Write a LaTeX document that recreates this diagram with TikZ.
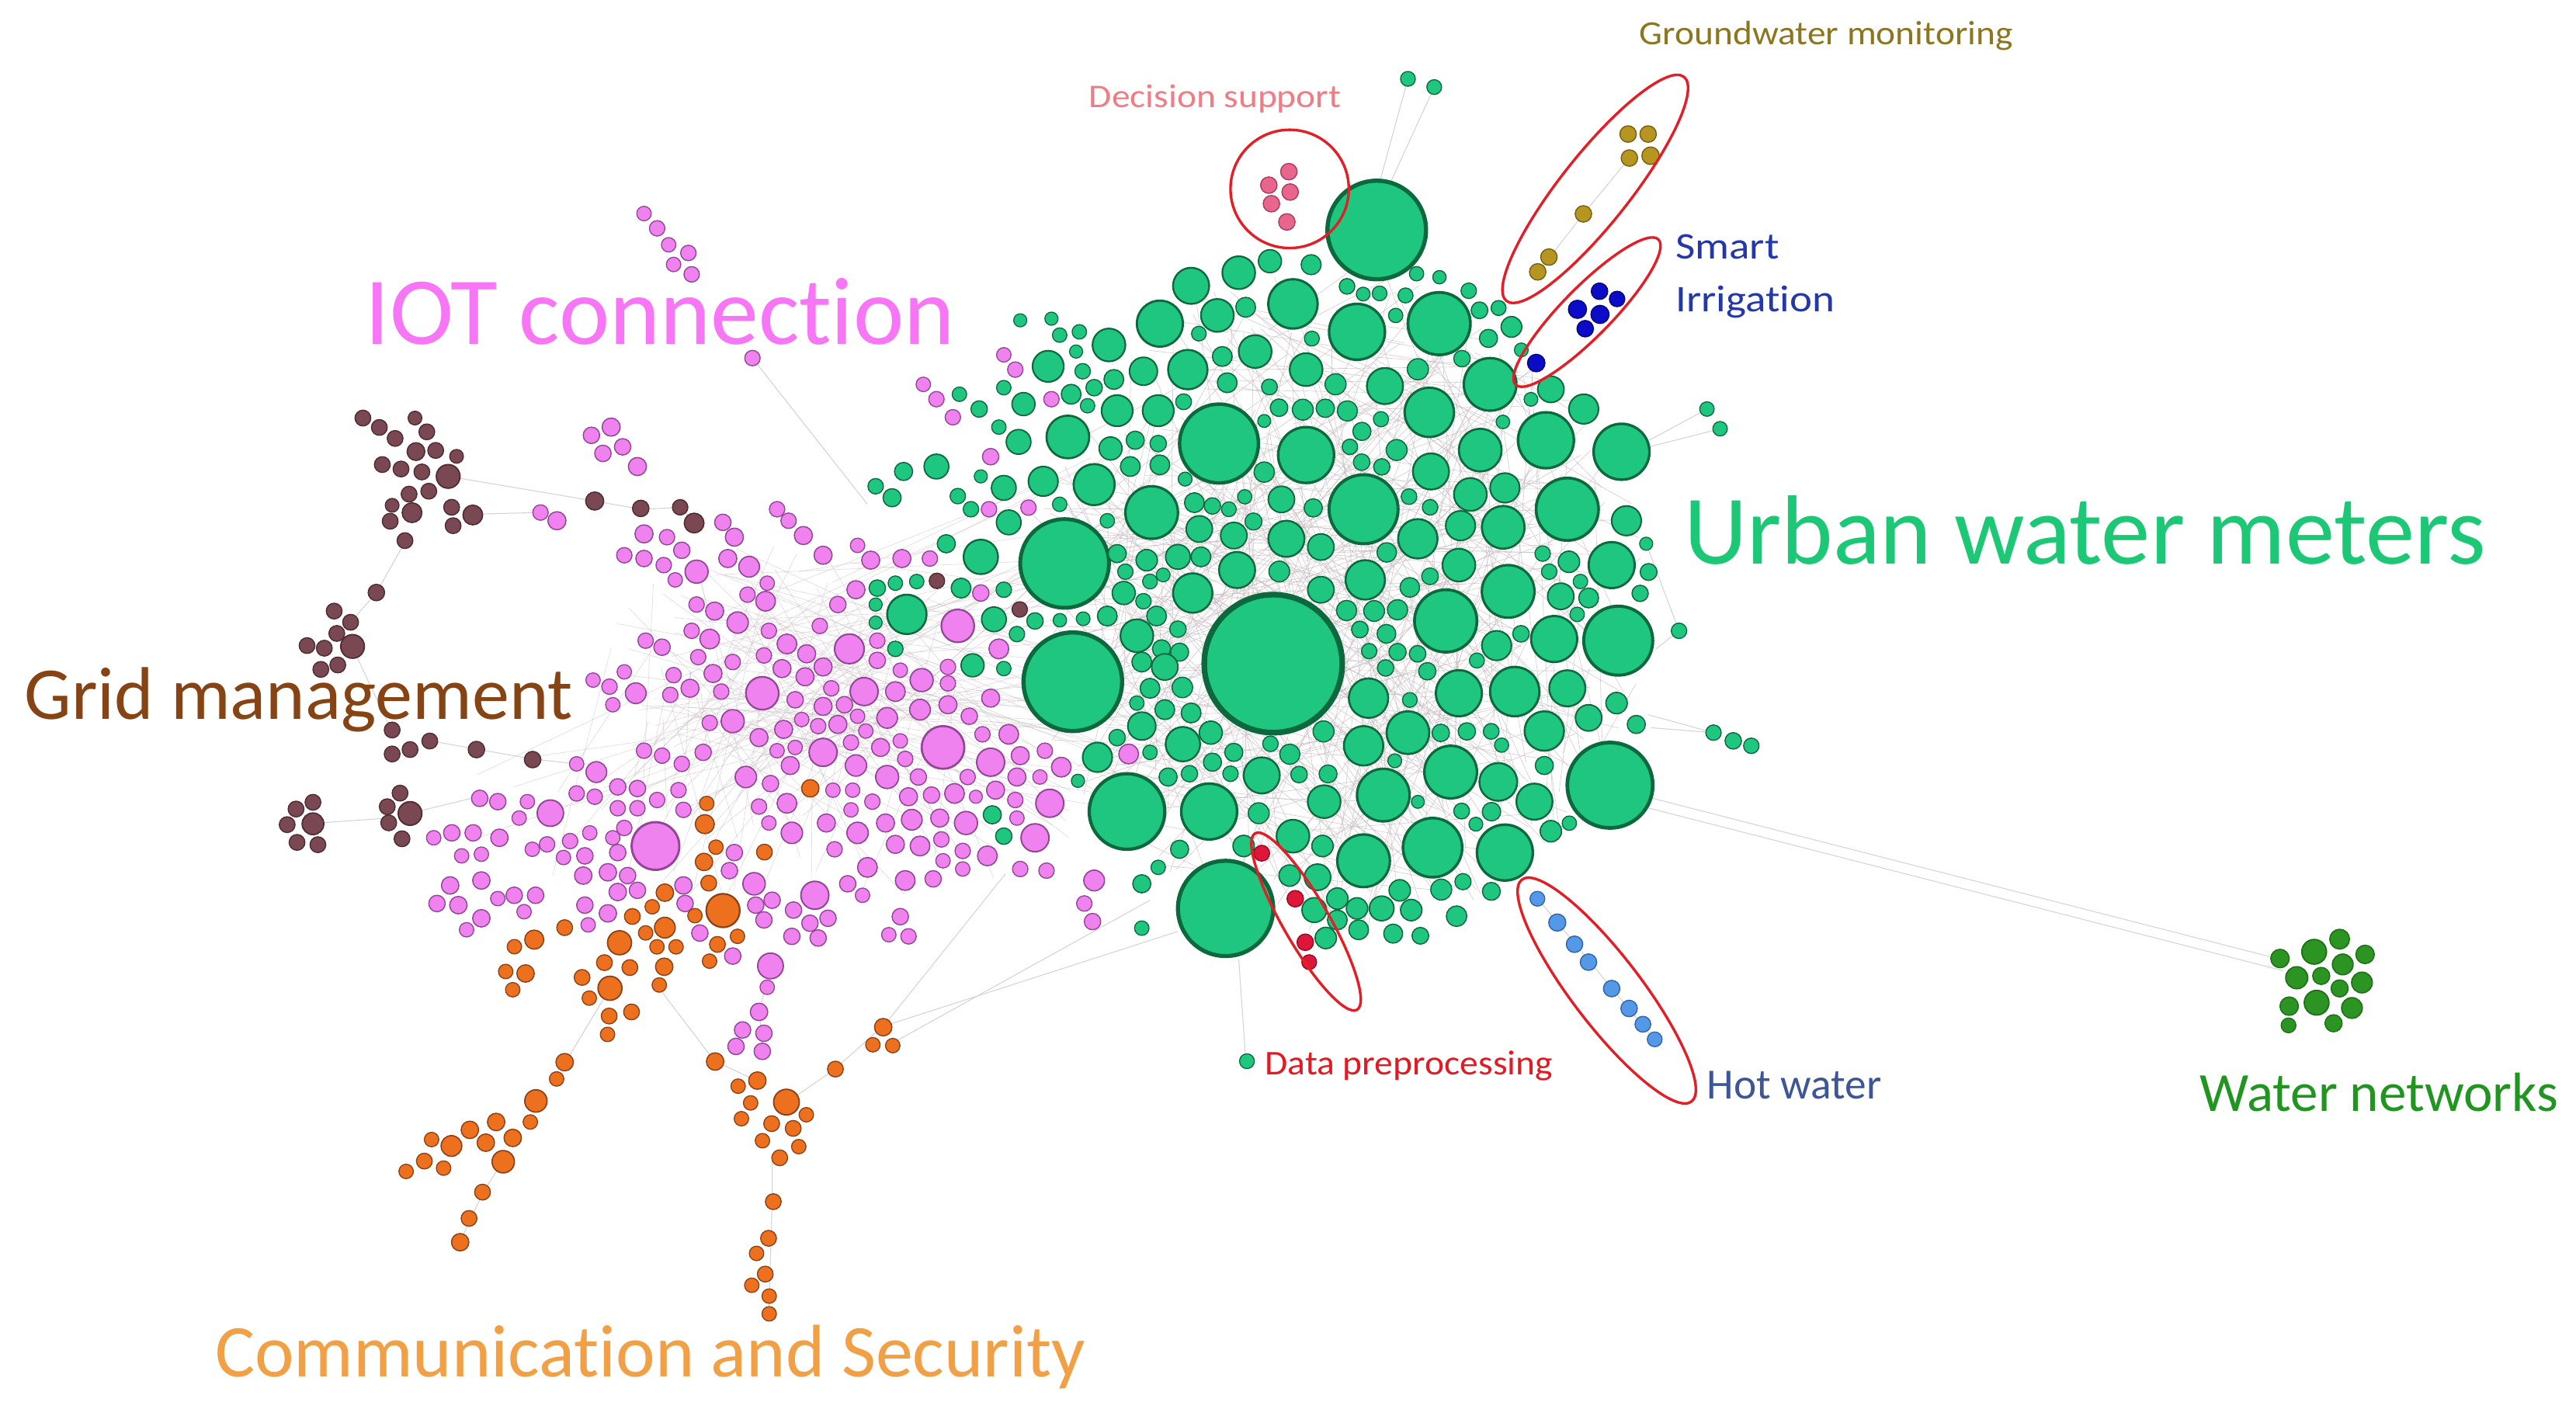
\documentclass[tikz,border=0pt]{standalone}
\usepackage{fontspec}
\setmainfont[Ligatures=NoCommon]{Carlito}
\usepackage{graphicx}
\definecolor{gfill}{RGB}{30,198,128}
\definecolor{gline}{RGB}{12,105,62}
\definecolor{pfill}{RGB}{240,130,240}
\definecolor{pline}{RGB}{145,70,150}
\definecolor{ofill}{RGB}{236,112,30}
\definecolor{oline}{RGB}{140,66,22}
\definecolor{bfill}{RGB}{122,72,82}
\definecolor{bline}{RGB}{78,42,50}
\definecolor{wfill}{RGB}{44,148,34}
\definecolor{wline}{RGB}{30,112,24}
\definecolor{dsfill}{RGB}{232,102,142}
\definecolor{dsline}{RGB}{170,60,95}
\definecolor{gwfill}{RGB}{182,150,32}
\definecolor{gwline}{RGB}{120,95,20}
\definecolor{sifill}{RGB}{12,12,200}
\definecolor{siline}{RGB}{5,5,120}
\definecolor{dpfill}{RGB}{222,22,58}
\definecolor{dpline}{RGB}{150,10,35}
\definecolor{hwfill}{RGB}{84,152,232}
\definecolor{hwline}{RGB}{50,100,170}
\definecolor{redring}{RGB}{228,30,38}
\definecolor{webc}{RGB}{196,184,190}
\definecolor{tGround}{RGB}{140,118,32}
\definecolor{tDec}{RGB}{240,124,134}
\definecolor{tSmart}{RGB}{36,56,168}
\definecolor{tIot}{RGB}{246,118,246}
\definecolor{tUrban}{RGB}{28,200,118}
\definecolor{tGrid}{RGB}{134,68,20}
\definecolor{tData}{RGB}{226,26,36}
\definecolor{tHot}{RGB}{62,86,152}
\definecolor{tWater}{RGB}{32,150,32}
\definecolor{tComm}{RGB}{242,160,70}
\newif\ifkeep
\def\qx{0}\def\qy{0}\def\qr{0}
\newcommand\ovlchk[3]{%
  \ifdim\dimexpr #1pt-\qx pt\relax<52pt
  \ifdim\dimexpr \qx pt-#1pt\relax<52pt
  \ifdim\dimexpr #2pt-\qy pt\relax<52pt
  \ifdim\dimexpr \qy pt-#2pt\relax<52pt
    \pgfmathparse{veclen(#1-\qx,#2-\qy)-#3-\qr}%
    \ifdim\pgfmathresult pt<1.3pt \global\keepfalse\fi
  \fi\fi\fi\fi}
\newcommand\mkcirc[5]{%
  \pgfmathsetmacro\qlw{0.3+0.075*#5}%
  \filldraw[fill=#1,draw=#2,line width=\qlw pt] (#3,#4) circle[radius=#5];}
% ---------------- green explicit ----------------
\def\Glist{%
\myc{838}{140}{30}\myc{876}{197}{19}\myc{826}{202}{17}\myc{787}{185}{15}\myc{754}{166}{10}%
\myc{773}{159}{7}\myc{725}{174}{11}\myc{706}{197}{14}\myc{741}{192}{10}\myc{744}{217}{6}%
\myc{747}{233}{6}\myc{723}{225}{12}\myc{764}{214}{10}\myc{795}{225}{10}\myc{843}{235}{11}%
\myc{870}{251}{15}\myc{907}{234}{16}\myc{941}{268}{17}\myc{987}{275}{17}\myc{954}{310}{19}%
\myc{901}{274}{13}\myc{742}{270}{24}\myc{795}{277}{17}\myc{830}{310}{21}\myc{871}{287}{11}%
\myc{895}{301}{10}\myc{916}{297}{9}\myc{990}{317}{9}\myc{981}{344}{14}\myc{915}{321}{13}%
\myc{889}{320}{9}\myc{863}{328}{12}\myc{888}{344}{10}\myc{918}{360}{16}\myc{880}{378}{19}%
\myc{946}{389}{14}\myc{985}{390}{21}\myc{911}{393}{9}\myc{888}{422}{14}\myc{922}{421}{15}%
\myc{954}{419}{11}\myc{857}{446}{13}\myc{833}{425}{12}\myc{940}{445}{12}\myc{980}{478}{26}%
\myc{883}{470}{16}\myc{783}{328}{11}\myc{751}{326}{8}\myc{730}{322}{8}\myc{804}{333}{8}%
\myc{804}{359}{8}\myc{780}{304}{8}\myc{726}{361}{12}\myc{701}{312}{16}\myc{831}{353}{12}%
\myc{648}{343}{27}\myc{653}{415}{30}\myc{775}{404}{42}\myc{686}{494}{23}\myc{736}{494}{17}%
\myc{746}{553}{29}\myc{830}{524}{16}\myc{872}{516}{18}\myc{916}{519}{17}\myc{842}{484}{16}%
\myc{912}{476}{11.5}\myc{934}{488}{11}\myc{768}{472}{11}\myc{787}{509}{10}\myc{806}{488}{10}%
\myc{830}{454}{12}\myc{668}{461}{9}\myc{720}{453}{10.5}\myc{753}{347}{11}\myc{692}{387}{10}%
\myc{621}{195}{4}\myc{640}{194}{4}\myc{645}{204}{4.4}\myc{657}{202}{4.4}\myc{655}{214}{4}%
\myc{675}{210}{10}\myc{696}{226}{8.5}\myc{678}{231}{6}\myc{659}{226}{4.7}\myc{638}{223}{9.5}%
\myc{611}{236}{4.4}\myc{652}{240}{6}\myc{666}{236}{5}\myc{623}{246}{7}\myc{680}{250}{9.5}%
\myc{705}{250}{9.5}\myc{662}{247}{4.4}\myc{584}{240}{4.4}\myc{596}{249}{5}\myc{608}{260}{4.4}%
\myc{620}{269}{7.5}\myc{650}{266}{13}\myc{676}{273}{7}\myc{691}{268}{5.5}\myc{705}{270}{5}%
\myc{688}{284}{6}\myc{706}{283}{6}\myc{666}{295}{12.5}\myc{635}{293}{9}\myc{611}{297}{7.5}%
\myc{597}{290}{4}\myc{727}{306}{6}\myc{738}{308}{5}\myc{748}{310}{4.5}\myc{674}{317}{4.4}%
\myc{645}{307}{4.4}\myc{583}{302}{4.7}\myc{591}{310}{4.7}\myc{614}{318}{7.5}\myc{570}{284}{7.5}%
\myc{550}{287}{5.5}\myc{533}{296}{4.7}\myc{543}{303}{5.5}\myc{597}{339}{10.5}\myc{576}{331}{5.5}%
\myc{585}{358}{6}\myc{611}{359}{4.7}\myc{630}{378}{5}\myc{619}{386}{4.7}\myc{605}{377}{7.5}%
\myc{552}{374}{12}\myc{534}{358}{5}\myc{545}{355}{4.4}\myc{558}{354}{4.4}\myc{533}{368}{4}%
\myc{533}{379}{4}\myc{545}{395}{4.7}\myc{592}{405}{7}\myc{611}{407}{4.4}\myc{680}{337}{5.5}%
\myc{685}{348}{4.7}\myc{698}{341}{6.5}\myc{717}{339}{7.5}\myc{731}{339}{6}\myc{684}{361}{7}%
\myc{700}{354}{4.5}\myc{708}{350}{4.2}\myc{696}{366}{4.7}\myc{674}{375}{6}\myc{704}{375}{6}%
\myc{717}{383}{5}\myc{707}{395}{5.5}\myc{718}{397}{5.5}\myc{695}{403}{6}\myc{709}{406}{8}%
\myc{700}{419}{6}\myc{692}{428}{4.4}\myc{709}{432}{6}\myc{725}{434}{6}\myc{695}{442}{8.5}%
\myc{680}{449}{5}\myc{737}{446}{7}\myc{700}{458}{4.4}\myc{711}{473}{5.5}\myc{724}{471}{5}%
\myc{738}{464}{5.5}\myc{749}{471}{4.7}\myc{751}{458}{5.5}\myc{718}{517}{5.5}\myc{705}{528}{4.4}%
\myc{695}{538}{5.5}\myc{695}{565}{4.4}\myc{604}{496}{5.5}\myc{611}{509}{5}%
\myc{955}{342}{6.5}\myc{950}{363}{8}\myc{967}{364}{6}\myc{943}{348}{4.7}\myc{962}{354}{4.4}%
\myc{960}{374}{4.4}\myc{939}{337}{4.7}\myc{984}{428}{6.5}\myc{967}{437}{8}\myc{996}{441}{5.5}%
\myc{940}{466}{5.5}\myc{944}{506}{6.5}\myc{1002}{331}{4}%
\myc{894}{177}{4.7}\myc{920}{199}{6.3}\myc{906}{206}{5.5}\myc{926}{213}{4.2}\myc{944}{237}{8}\myc{964}{249}{9}%
\myc{757}{515}{6.5}\myc{785}{533}{6.5}\myc{802}{534}{8}\myc{800}{554}{7.5}\myc{814}{547}{6.5}%
\myc{826}{553}{6.5}\myc{841}{553}{7.5}\myc{859}{554}{6.5}\myc{852}{542}{6.5}\myc{814}{560}{6}%
\myc{827}{566}{6}\myc{807}{571}{6.5}\myc{805}{515}{6.5}%
\myc{1022}{384}{4.7}\myc{1043}{446}{4.7}\myc{1055}{451}{5}\myc{1066}{454}{4.7}\myc{1039}{249}{4.4}%
\myc{1047}{261}{4.4}\myc{857}{48}{4.5}\myc{873}{53}{4.5}\myc{759}{646}{4.5}}
% ---------------- pink ----------------
\def\Plist{%
\myc{392}{130}{4.4}\myc{400}{139}{4.7}\myc{407}{149}{4.4}\myc{419}{154}{4.7}\myc{410}{161}{4.4}\myc{421}{167}{4.7}\myc{458}{218}{4.7}%
\myc{360}{265}{5}\myc{372}{260}{5.5}\myc{379}{272}{5}\myc{367}{276}{5}\myc{388}{284}{5.5}\myc{329}{312}{4.7}\myc{339}{317}{5.5}%
\myc{473}{310}{4.7}\myc{480}{317}{4.7}\myc{489}{326}{5.5}\myc{440}{318}{5}\myc{447}{327}{5.5}\myc{392}{325}{5.5}\myc{406}{327}{4.7}%
\myc{562}{234}{4.4}\myc{570}{243}{4.7}\myc{580}{254}{4.7}\myc{611}{216}{4.4}\myc{618}{225}{4.7}\myc{640}{243}{4.7}%
\myc{603}{278}{5}\myc{626}{309}{4.7}\myc{602}{310}{4.7}\myc{522}{332}{4.4}\myc{530}{341}{5.5}\myc{549}{340}{5.5}%
\myc{566}{340}{4.7}\myc{597}{361}{5}\myc{583}{381}{10}\myc{608}{395}{6}%
\myc{415}{335}{5}\myc{380}{338}{4.7}\myc{392}{340}{5}\myc{404}{344}{4.7}\myc{411}{353}{4.4}\myc{424}{348}{7}%
\myc{443}{340}{5.5}\myc{456}{345}{6.3}\myc{467}{355}{4.4}\myc{455}{362}{4.7}\myc{466}{366}{6}\myc{501}{338}{5.5}%
\myc{521}{359}{5.5}\myc{510}{368}{5}\myc{499}{381}{4.7}\myc{468}{384}{4.7}\myc{449}{379}{6.5}\myc{435}{372}{5.5}%
\myc{424}{368}{4.7}\myc{421}{384}{4.7}\myc{432}{389}{6}\myc{425}{400}{4.7}\myc{446}{403}{4.7}\myc{434}{410}{5.5}%
\myc{465}{399}{4.7}\myc{479}{392}{6}\myc{491}{398}{5.5}\myc{476}{407}{5.5}\myc{490}{412}{5.5}\myc{501}{406}{5.5}%
\myc{517}{395}{9}\myc{534}{390}{4.7}\myc{534}{402}{5}\myc{464}{422}{10}\myc{526}{421}{8.5}\myc{506}{419}{4.7}%
\myc{484}{426}{5}\myc{501}{430}{5.5}\myc{514}{429}{5}\myc{488}{438}{4.4}\myc{498}{442}{4.7}\myc{510}{441}{5.5}%
\myc{522}{436}{4.4}\myc{527}{445}{4.4}\myc{518}{452}{4.7}\myc{540}{437}{6.3}\myc{536}{455}{5.5}\myc{477}{444}{5.5}%
\myc{462}{449}{5.5}\myc{473}{457}{4.4}\myc{484}{455}{4.4}\myc{501}{458}{8.5}\myc{521}{466}{6.5}\myc{540}{473}{7}%
\myc{481}{466}{5.5}\myc{507}{481}{4.4}\myc{519}{481}{4.4}\myc{531}{488}{4.7}\myc{518}{493}{4.4}\myc{503}{501}{5.5}%
\myc{522}{507}{6.5}\myc{482}{507}{6.5}\myc{479}{489}{6}\myc{468}{501}{4.4}\myc{469}{477}{5}\myc{462}{491}{4.7}%
\myc{454}{473}{6.5}\myc{508}{517}{4.7}\myc{539}{501}{5.5}\myc{446}{439}{7}\myc{432}{440}{4.7}\myc{439}{421}{4.7}%
\myc{420}{419}{5.5}\myc{408}{423}{4.7}\myc{410}{411}{4.7}\myc{387}{422}{6.3}\myc{371}{418}{4.7}\myc{361}{414}{4.4}%
\myc{373}{429}{4.4}\myc{380}{409}{4.4}\myc{393}{390}{4.7}\myc{403}{394}{5}\myc{392}{457}{4.7}\myc{403}{460}{4.7}%
\myc{415}{465}{4.7}\myc{428}{458}{5}\myc{351}{465}{4.4}\myc{363}{470}{6.3}\myc{351}{483}{4.7}\myc{362}{485}{4.7}%
\myc{376}{479}{5}\myc{388}{480}{5}\myc{400}{487}{4.7}\myc{413}{481}{4.7}\myc{376}{492}{4.7}\myc{388}{492}{4.7}%
\myc{416}{493}{4.7}\myc{399}{515}{14.5}\myc{380}{504}{4.7}\myc{335}{495}{8}\myc{321}{488}{4.4}\myc{316}{498}{4.4}%
\myc{359}{507}{4.4}\myc{347}{512}{4.7}\myc{333}{514}{4.7}\myc{373}{510}{4.4}%
\myc{574}{455}{13}\myc{603}{464}{8.5}\myc{639}{489}{8.5}\myc{630}{510}{8.5}\myc{687}{459}{6}\myc{666}{536}{6.3}%
\myc{660}{550}{4.7}\myc{665}{561}{5}\myc{548}{558}{5}\myc{541}{569}{4.4}\myc{553}{570}{4.7}\myc{551}{536}{6}%
\myc{525}{545}{4.4}\myc{528}{528}{6}\myc{568}{535}{5}\myc{586}{529}{4.4}\myc{601}{521}{6}\myc{621}{529}{4.7}%
\myc{637}{530}{4.7}\myc{619}{498}{4.4}\myc{618}{487}{4.7}\myc{588}{501}{7}\myc{572}{498}{5.5}\myc{555}{499}{6.3}%
\myc{545}{514}{5.5}\myc{560}{515}{6}\myc{573}{511}{4.7}\myc{586}{518}{4.7}\myc{574}{524}{4.4}\myc{553}{485}{5.5}%
\myc{567}{484}{5}\myc{581}{483}{6}\myc{594}{485}{4}\myc{606}{481}{5.5}\myc{619}{473}{5.5}\myc{633}{473}{4.4}%
\myc{646}{467}{6}\myc{621}{460}{5.5}\myc{636}{457}{4.7}\myc{589}{473}{4.7}\myc{559}{473}{5}\myc{551}{462}{4.7}%
\myc{548}{451}{4.4}\myc{545}{421}{6}\myc{561}{414}{7}\myc{577}{416}{4.7}\myc{577}{406}{4.7}\myc{548}{408}{4.4}%
\myc{560}{432}{6.3}\myc{577}{429}{5.5}\myc{590}{436}{5}\myc{603}{425}{5.5}\myc{598}{447}{4.7}\myc{614}{447}{6}%
\myc{292}{486}{5}\myc{303}{488}{5}\myc{264}{510}{4.4}\myc{275}{507}{5}\myc{288}{507}{5}\myc{304}{510}{5.3}%
\myc{281}{521}{4.4}\myc{293}{520}{4.4}\myc{324}{517}{4.4}\myc{376}{519}{5}\myc{356}{521}{5}\myc{343}{522}{4.4}%
\myc{355}{533}{5.3}\myc{370}{531}{5.3}\myc{382}{533}{5}\myc{376}{543}{5.3}\myc{388}{542}{5}\myc{416}{539}{5.3}%
\myc{417}{550}{5}\myc{274}{539}{5.3}\myc{293}{536}{5.3}\myc{303}{547}{4.4}\myc{266}{550}{5}\myc{279}{551}{5.3}%
\myc{293}{559}{5.3}\myc{284}{566}{4.4}\myc{313}{545}{5}\myc{326}{545}{5}\myc{319}{555}{4.4}\myc{356}{551}{5}%
\myc{370}{556}{5.3}\myc{358}{563}{4.4}\myc{447}{519}{5}\myc{444}{530}{5}\myc{459}{538}{6.8}\myc{460}{551}{5}%
\myc{470}{548}{5}\myc{465}{560}{5}\myc{483}{554}{5}\myc{496}{545}{8.5}\myc{504}{559}{5}\myc{493}{562}{5}%
\myc{482}{570}{5}\myc{498}{571}{5}\myc{469}{588}{7.8}\myc{467}{601}{4.4}\myc{462}{616}{5.3}\myc{452}{627}{5}%
\myc{465}{629}{5}\myc{448}{637}{5}\myc{464}{640}{5}\myc{446}{582}{5}\myc{426}{568}{5}\myc{516}{538}{5}}
% ---------------- orange ----------------
\def\Olist{%
\myc{430.2}{489.1}{4.4}\myc{429}{501.7}{5.8}\myc{435.8}{515.7}{4.4}\myc{428.5}{524.7}{5.3}\myc{431.4}{537.6}{4.8}%
\myc{440.1}{554.3}{10.2}\myc{465.3}{518.7}{4.8}\myc{493.2}{479.9}{5.3}\myc{404.7}{543.4}{5.3}\myc{397}{552}{4.4}%
\myc{384.9}{557.9}{4.8}\myc{404.7}{564.7}{6.3}\myc{393}{567.9}{4.4}\myc{423}{557.4}{4.4}\myc{377.1}{573.9}{7.3}%
\myc{399.9}{576.4}{4.4}\myc{411.5}{576.4}{4.4}\myc{404.3}{588.5}{5.3}\myc{383.4}{589}{4.8}\myc{367.9}{586}{4.8}%
\myc{401.3}{599.6}{4.4}\myc{436.7}{574.9}{4.8}\myc{448.9}{570}{4.4}\myc{431.9}{585.1}{4.4}\myc{371.3}{601.6}{7.3}%
\myc{354.3}{595}{4.8}\myc{358.7}{607.6}{4.4}\myc{370.8}{618.5}{4.8}\myc{384.4}{616}{4.8}\myc{369.8}{629.7}{4.4}%
\myc{343.7}{564.7}{4.8}\myc{325.2}{572}{5.8}\myc{313.1}{576.3}{4.4}\myc{319.9}{592.6}{5.3}\myc{307.8}{591.4}{4.4}%
\myc{312.1}{602.5}{4.4}\myc{343.7}{646.6}{5.3}\myc{338.8}{656.8}{4.4}\myc{326.2}{670.2}{6.8}\myc{322.8}{683}{4.4}%
\myc{302}{683}{5.3}\myc{286}{687.8}{5.3}\myc{312.1}{692.7}{5.3}\myc{295.7}{695.6}{5.3}\myc{274.8}{697.6}{6.3}%
\myc{262.7}{693.7}{4.4}\myc{306.3}{707.2}{6.8}\myc{258.3}{706.8}{4.8}\myc{270}{711.1}{4.4}\myc{247.2}{713.1}{4.4}%
\myc{293.7}{725.7}{4.8}\myc{285.5}{741.7}{4.8}\myc{280.1}{756.2}{5.3}\myc{435.3}{646.2}{5.3}\myc{461}{657.8}{5.3}%
\myc{449.3}{661.2}{4.4}\myc{456.9}{671.4}{4.4}\myc{478.7}{670.9}{7.8}\myc{490.8}{678.6}{4.4}\myc{451.3}{681}{4.4}%
\myc{469.7}{684}{4.8}\myc{482.8}{686.9}{4.8}\myc{464.1}{694.4}{4.4}\myc{486.2}{698}{4.4}\myc{474.6}{704.8}{4.8}%
\myc{470.7}{731.5}{4.8}\myc{467.8}{753.8}{4.8}\myc{460.5}{763}{4.4}\myc{465.8}{775.6}{4.8}\myc{457.6}{782.4}{4.4}%
\myc{468.2}{789}{4.4}\myc{468.2}{799.8}{4.4}\myc{508.5}{650.8}{4.8}\myc{537.6}{625.3}{5.3}\myc{531.3}{636}{4.4}%
\myc{543.4}{636.5}{4.4}}
% ---------------- brown ----------------
\def\Blist{%
\myc{220.9}{254.5}{4.8}\myc{230.9}{260.2}{4.8}\myc{252.6}{254.5}{4.2}\myc{259.8}{262.9}{4.8}\myc{240.5}{266.9}{4.8}%
\myc{253.2}{274.9}{5.4}\myc{265.2}{274.2}{4.8}\myc{277.9}{277.8}{4.2}\myc{232.7}{282.8}{4.8}\myc{244.1}{285.5}{4.8}%
\myc{256.8}{287.3}{4.8}\myc{272.8}{290}{7.2}\myc{249}{300.8}{4.8}\myc{261}{299}{4.8}\myc{238.7}{307.6}{4.2}%
\myc{250.8}{312.1}{6}\myc{274.9}{308.8}{4.8}\myc{287.8}{313.5}{6}\myc{237.5}{317.3}{4.8}\myc{275.8}{320}{4.8}%
\myc{246.5}{329.1}{4.8}\myc{362}{305}{5.5}\myc{390}{309.5}{5}\myc{414}{308.8}{4.7}\myc{422.5}{318.4}{6}%
\myc{229.1}{360.7}{5}\myc{203.4}{372}{4.8}\myc{213.4}{378.8}{4.8}\myc{186.9}{393}{4.8}\myc{197.4}{394.6}{4.8}%
\myc{205}{385.6}{4.8}\myc{214.6}{393.5}{7.2}\myc{195.3}{407.5}{4.8}\myc{205.6}{404.8}{4.8}\myc{238.7}{444.4}{4.8}%
\myc{249.6}{456.3}{4.8}\myc{261.6}{451.1}{4.8}\myc{238.7}{459}{4.8}\myc{290}{456.3}{5}\myc{324.2}{462.4}{5}%
\myc{243.5}{482.8}{4.8}\myc{235.7}{491.1}{4.8}\myc{249.6}{495.2}{7.2}\myc{236.6}{500.9}{4.8}\myc{244.7}{510.6}{4.8}%
\myc{180.2}{492.5}{4.8}\myc{190.5}{488.4}{4.8}\myc{190.5}{501.5}{6.6}\myc{174.8}{502}{4.8}\myc{180.8}{512.8}{4.8}%
\myc{193.5}{514.2}{4.8}\myc{570.3}{353.6}{4.7}\myc{620.7}{371}{4.7}}
% ---------------- small groups ----------------
\def\DSlist{\myc{784.5}{104.5}{5}\myc{772.3}{112.7}{5}\myc{785.3}{116.9}{5}\myc{773.9}{124}{5}\myc{783.3}{135.1}{5}}
\def\GWlist{\myc{991}{81.6}{5}\myc{1003.2}{81.6}{5}\myc{991.8}{96.2}{5}\myc{1004.7}{94.8}{5.3}\myc{963.8}{130.2}{5}\myc{942.8}{156.5}{5}\myc{936}{165.5}{5}}
\def\SIlist{\myc{973.6}{177.3}{5}\myc{984.3}{182}{4.7}\myc{960.2}{188.3}{5.5}\myc{973.9}{191.4}{5.5}\myc{964.9}{200.1}{5}\myc{935.1}{221}{5.3}}
\def\DPlist{\myc{768}{519.4}{4.8}\myc{788.4}{547.1}{5}\myc{794.5}{573.6}{5}\myc{796.9}{585.7}{4.5}}
\def\HWlist{\myc{935.8}{547.1}{4.5}\myc{947.9}{561.6}{5.2}\myc{958.4}{574.8}{5}\myc{966.9}{585.7}{5}\myc{981}{601.8}{5}\myc{991.6}{613.9}{5}\myc{1000}{623.5}{4.8}\myc{1007.2}{632.7}{4.5}}
\def\WNlist{\myc{1387.8}{583.5}{5.6}\myc{1408.6}{579.4}{7.5}\myc{1424.1}{571.7}{6}\myc{1439.6}{581}{5.6}\myc{1398}{595.2}{6.7}\myc{1412.9}{594.1}{5.2}\myc{1426}{587.1}{6.3}\myc{1437.7}{598.1}{6.3}\myc{1424.1}{601.7}{5.2}\myc{1393.4}{612.5}{5.6}\myc{1410.1}{610.4}{7.5}\myc{1431.6}{613.6}{6.3}\myc{1393}{624.2}{4.5}\myc{1420.4}{622.9}{5.2}}
\def\BKlist{\myc{940}{215}{11}\myc{927}{229}{7}}
\begin{document}
\begin{tikzpicture}[x=1pt,y=-1pt,
  web/.style={draw=webc,line width=0.3pt,opacity=0.7},
  pweb/.style={draw=webc,line width=0.3pt,opacity=0.5},
  edge/.style={draw=black!17,line width=0.5pt},
  ring/.style={draw=redring,line width=1.6pt},
  lbl/.style={anchor=base west,inner sep=0pt,outer sep=0pt}]
\fill[white] (0,0) rectangle (1568,853);
\path[use as bounding box] (0,0) rectangle (1568,853);
\pgfmathsetseed{2024}
% mesh inside the main cluster
\foreach \k in {1,...,380}{%
  \pgfmathsetmacro\ta{rnd*360}\pgfmathsetmacro\sa{sqrt(rnd)}%
  \pgfmathsetmacro\tb{rnd*360}\pgfmathsetmacro\sb{sqrt(rnd)}%
  \draw[web] ({812+190*\sa*cos(\ta)},{365+205*\sa*sin(\ta)}) -- ({812+190*\sb*cos(\tb)},{365+205*\sb*sin(\tb)});
}
% mesh in the pink cluster
\foreach \k in {1,...,110}{%
  \pgfmathsetmacro\ta{rnd*360}\pgfmathsetmacro\sa{sqrt(rnd)}%
  \pgfmathsetmacro\tb{rnd*360}\pgfmathsetmacro\sb{sqrt(rnd)}%
  \draw[pweb] ({470+190*\sa*cos(\ta)},{490+65*\sa*sin(\ta)}) -- ({480+110*\sb*cos(\tb)},{400+70*\sb*sin(\tb)});
}
\foreach \k in {1,...,60}{%
  \pgfmathsetmacro\ta{rnd*360}\pgfmathsetmacro\sa{sqrt(rnd)}%
  \pgfmathsetmacro\tb{rnd*360}\pgfmathsetmacro\sb{sqrt(rnd)}%
  \draw[pweb] ({480+110*\sa*cos(\ta)},{400+70*\sa*sin(\ta)}) -- ({700+80*\sb*cos(\tb)},{380+120*\sb*sin(\tb)});
}
% sparse connectors
\draw[edge] (840,110) -- (857,48);
\draw[edge] (846,112) -- (873,53);
\draw[edge] (1004,268) -- (1039,249);
\draw[edge] (1004,272) -- (1047,261);
\draw[edge] (1002,331) -- (1022,384);
\draw[edge] (1008,395) -- (1022,384);
\draw[edge] (1003,435) -- (1043,446);
\draw[edge] (1005,443) -- (1043,446);
\draw[edge] (1006,486) -- (1388,584);
\draw[edge] (1004,492) -- (1390,591);
\draw[edge] (754,584) -- (758,641);
\draw[edge] (717,567) -- (540,624);
\draw[edge] (612,532) -- (540,622);
\draw[edge] (700,548) -- (545,634);
\draw[edge] (537,625) -- (508,651) -- (479,671);
\draw[edge] (470,705) -- (470,731) -- (468,800);
\draw[edge] (306,707) -- (294,726) -- (280,756);
\draw[edge] (371,602) -- (344,647);
\draw[edge] (400,600) -- (435,646) -- (461,658);
\draw[edge] (469,588) -- (462,616) -- (465,640);
\draw[edge] (287,313) -- (329,312);
\draw[edge] (273,290) -- (362,305) -- (390,310) -- (414,309) -- (423,318);
\draw[edge] (247,329) -- (229,361) -- (214,378);
\draw[edge] (214,393) -- (238,444);
\draw[edge] (262,451) -- (290,456) -- (324,462) -- (351,465);
\draw[edge] (194,501) -- (236,498);
\draw[edge] (250,495) -- (291,485);
\draw[edge] (458,218) -- (528,307);
\draw[edge] (936,166) -- (964,130) -- (992,96);
\draw[edge] (936,547) -- (1007,633);
% filler of small green circles in the main cluster (two passes)
\gdef\Flist{}
\foreach \j in {0,...,35}{%
 \foreach \i in {0,...,27}{%
  \pgfmathsetmacro\qx{622+\i*14.2+mod(\j,2)*7.1+rand*2.2}%
  \pgfmathsetmacro\qy{150+\j*12.3+rand*2.2}%
  \pgfmathsetmacro\qr{4.5+rnd*2.0}%
  \pgfmathparse{((\qx-815)/190)^2+((\qy-365)/212)^2}%
  \ifdim\pgfmathresult pt<1pt
    \global\keeptrue
    \let\myc\ovlchk
    \Glist\Plist\SIlist\DPlist\GWlist\BKlist\Flist
    \ifkeep
      \filldraw[fill=gfill,draw=gline,line width=0.7pt] (\qx,\qy) circle[radius=\qr];
      \xdef\Flist{\unexpanded\expandafter{\Flist}\noexpand\myc{\qx}{\qy}{\qr}}%
    \fi
  \fi
 }%
}
\foreach \j in {0,...,35}{%
 \foreach \i in {0,...,27}{%
  \pgfmathsetmacro\qx{629+\i*14.2+mod(\j,2)*7.1+rand*2.5}%
  \pgfmathsetmacro\qy{156+\j*12.3+rand*2.5}%
  \pgfmathsetmacro\qr{3.9+rnd*1.4}%
  \pgfmathparse{((\qx-815)/188)^2+((\qy-365)/208)^2}%
  \ifdim\pgfmathresult pt<1pt
    \global\keeptrue
    \let\myc\ovlchk
    \Glist\Plist\SIlist\DPlist\GWlist\BKlist\Flist
    \ifkeep
      \filldraw[fill=gfill,draw=gline,line width=0.65pt] (\qx,\qy) circle[radius=\qr];
      \xdef\Flist{\unexpanded\expandafter{\Flist}\noexpand\myc{\qx}{\qy}{\qr}}%
    \fi
  \fi
 }%
}
% explicit circles
\def\myc#1#2#3{\mkcirc{gfill}{gline}{#1}{#2}{#3}}\Glist
\def\myc#1#2#3{\mkcirc{pfill}{pline}{#1}{#2}{#3}}\Plist
\def\myc#1#2#3{\mkcirc{ofill}{oline}{#1}{#2}{#3}}\Olist
\def\myc#1#2#3{\mkcirc{bfill}{bline}{#1}{#2}{#3}}\Blist
\def\myc#1#2#3{\mkcirc{dsfill}{dsline}{#1}{#2}{#3}}\DSlist
\def\myc#1#2#3{\mkcirc{gwfill}{gwline}{#1}{#2}{#3}}\GWlist
\def\myc#1#2#3{\mkcirc{sifill}{siline}{#1}{#2}{#3}}\SIlist
\def\myc#1#2#3{\mkcirc{dpfill}{dpline}{#1}{#2}{#3}}\DPlist
\def\myc#1#2#3{\mkcirc{hwfill}{hwline}{#1}{#2}{#3}}\HWlist
\def\myc#1#2#3{\mkcirc{wfill}{wline}{#1}{#2}{#3}}\WNlist
% red rings
\draw[ring] (785,115) circle[radius=36];
\draw[ring,rotate around={51.6:(971,115)}] (971,115) ellipse[x radius=87,y radius=21];
\draw[ring,rotate around={45.5:(966,190)}] (966,190) ellipse[x radius=62,y radius=15];
\draw[ring,rotate around={-60:(795,561)}] (795,561) ellipse[x radius=62,y radius=14];
\draw[ring,rotate around={-52.6:(978,603)}] (978,603) ellipse[x radius=85,y radius=21];
% labels
\node[lbl,text=tGround,font=\fontsize{22.4}{26}\selectfont] (tground) at (998,27.4) {\scalebox{1}[0.92]{Groundwater monitoring}};
\node[lbl,text=tDec,font=\fontsize{22.4}{26}\selectfont] (tdec) at (663,65.5) {\scalebox{1}[0.9]{Decision support}};
\node[lbl,text=tSmart,font=\fontsize{26}{28}\selectfont] (tsmart) at (1020,157.6) {\scalebox{1}[0.88]{Smart}};
\node[lbl,text=tSmart,font=\fontsize{26}{28}\selectfont] (tirr) at (1020,189.9) {\scalebox{1}[0.88]{Irrigation}};
\node[lbl,text=tIot,font=\fontsize{58.5}{60}\selectfont] (tiot) at (222.5,209.5) {IOT connection};
\node[lbl,text=tUrban,font=\fontsize{59.9}{62}\selectfont] (turban) at (1025,343.4) {Urban water meters};
\node[lbl,text=tGrid,font=\fontsize{45.4}{48}\selectfont] (tgrid) at (15,437.6) {Grid management};
\node[lbl,text=tData,font=\fontsize{22.5}{26}\selectfont] (tdata) at (770,654.4) {\scalebox{1}[0.94]{Data preprocessing}};
\node[lbl,text=tHot,font=\fontsize{26.2}{28}\selectfont] (thot) at (1039,669) {Hot water};
\node[lbl,text=tWater,font=\fontsize{33.6}{36}\selectfont] (twater) at (1339,676.4) {Water networks};
\node[lbl,text=tComm,font=\fontsize{45.3}{48}\selectfont] (tcomm) at (131,838) {Communication and Security};
\end{tikzpicture}
\end{document}
